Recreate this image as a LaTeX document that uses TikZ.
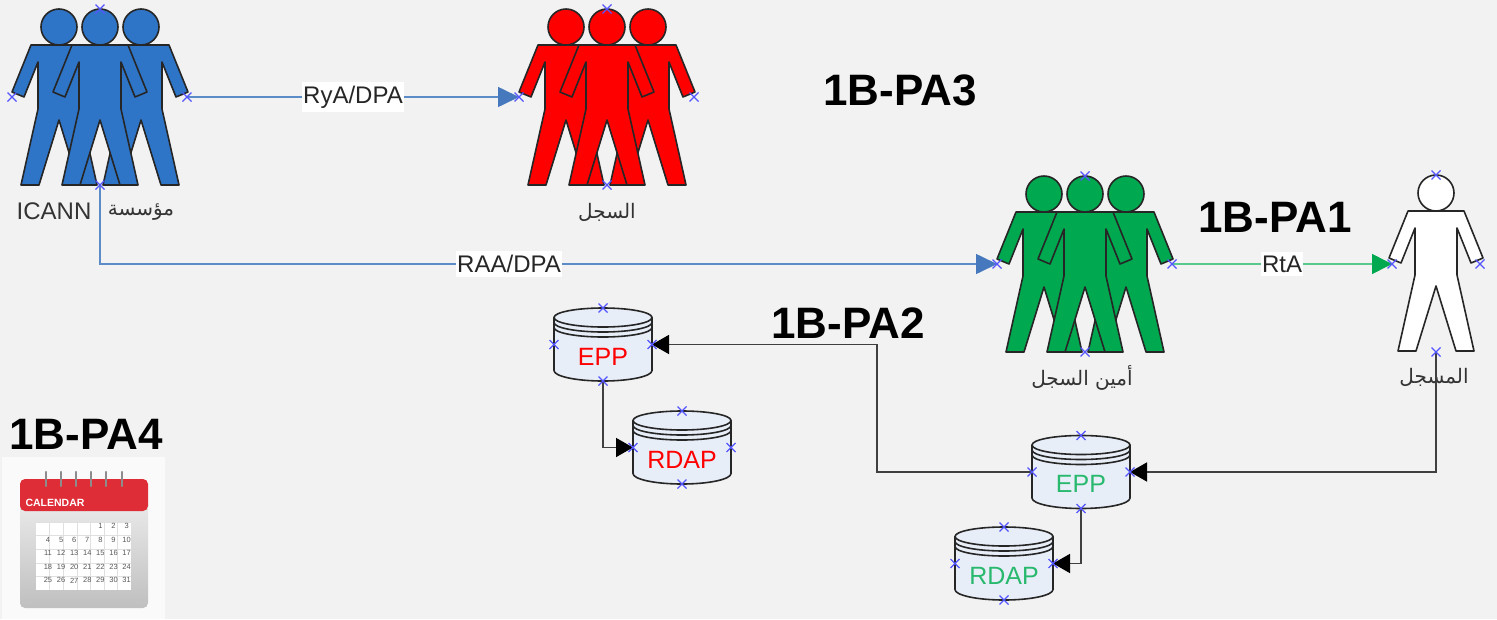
\documentclass[tikz,border=0pt]{standalone}
\usepackage{fontspec}
\setmainfont{Liberation Sans}
\newfontfamily\arabicfont[Script=Arabic]{DejaVu Sans}
\TeXXeTstate=1
\usepackage{tikz}
\usetikzlibrary{calc}
\usetikzlibrary{arrows.meta}
\usepackage{color}
\definecolor{pagegray}{RGB}{242, 242, 242}
\definecolor{icannblue}{RGB}{46, 117, 200}
\definecolor{linkblue}{RGB}{92, 140, 200}
\definecolor{tipblue}{RGB}{70, 120, 190}
\definecolor{rarred}{RGB}{255, 0, 0}
\definecolor{rargreen}{RGB}{0, 168, 80}
\definecolor{linkgreen}{RGB}{90, 200, 140}
\definecolor{eppgreen}{RGB}{40, 185, 110}
\definecolor{dbfill}{RGB}{232, 238, 247}
\definecolor{xmblue}{RGB}{85, 85, 255}
\definecolor{calred}{RGB}{222, 45, 55}
\tikzset{
  every node/.style={inner sep=0pt},
  outline/.style={draw=black!85, line width=1.6pt, line join=round},
  tag/.style={font=\fontsize{24}{28}\selectfont, text=black!85, fill=white, inner xsep=1pt, inner ysep=4pt},
  banner/.style={font=\bfseries\fontsize{44}{50}\selectfont, text=black},
  who/.style={font=\fontsize{24}{28}\selectfont, text=black!80},
  whoar/.style={font=\arabicfont\fontsize{20}{26}\selectfont, text=black!80},
  linkb/.style={draw=linkblue, line width=1.6pt, -{Triangle[length=21pt,width=20pt,color=tipblue]}},
  linkg/.style={draw=linkgreen, line width=1.6pt, -{Triangle[length=20pt,width=20pt,color=rargreen]}},
  linkk/.style={draw=black!75, line width=1.6pt, -{Triangle[length=17pt,width=19pt,color=black]}},
  pics/stick/.style={code={
    \draw[outline, fill=#1] (0,18) circle[radius=18pt];
    \draw[outline, fill=#1] (-28,36) -- (28,36) -- (47,83) -- (35,88) -- (21,53) -- (21,100)
      -- (38,176) -- (20,176) -- (0,111) -- (-20,176) -- (-38,176) -- (-21,100) -- (-21,53)
      -- (-35,88) -- (-47,83) -- cycle;
  }},
  pics/crowd/.style={code={
    \pic at (-41,0) {stick=#1};
    \pic at (41,0) {stick=#1};
    \pic at (0,0) {stick=#1};
    \coordinate (-n) at (0,0);
    \coordinate (-s) at (0,176);
    \coordinate (-w) at (-88,88);
    \coordinate (-e) at (87,88);
  }},
  pics/single/.style={code={
    \pic at (0,0) {stick=#1};
    \coordinate (-n) at (0,0);
    \coordinate (-s) at (0,177);
    \coordinate (-w) at (-44,89);
    \coordinate (-e) at (44,89);
  }},
  pics/dbase/.style 2 args={code={
    \draw[outline, fill=dbfill] (-49,-27) -- (-49,26) arc[start angle=180, end angle=0, x radius=49, y radius=10.5]
      -- (49,-27) -- cycle;
    \draw[outline, fill=dbfill] (0,-27) ellipse[x radius=49, y radius=9.5];
    \draw[outline] (-49,-22) arc[start angle=180, end angle=0, x radius=49, y radius=9.5];
    \draw[outline] (-49,-17) arc[start angle=180, end angle=0, x radius=49, y radius=9.5];
    \node[font=\fontsize{25}{30}\selectfont, text=#1] (-txt) at (0,12) {#2};
    \coordinate (-n) at (0,-36.5);
    \coordinate (-s) at (0,36.5);
    \coordinate (-w) at (-49,0);
    \coordinate (-e) at (49,0);
  }},
  pics/xm/.style={code={
    \draw[xmblue, line width=1.1pt] (-4.5,-4.5) -- (4.5,4.5) (-4.5,4.5) -- (4.5,-4.5);
  }}
}

\begin{document}
\begin{tikzpicture}[x=1pt, y=-1pt]
  % Page
  \fill[pagegray] (0,0) rectangle (1497,619);
  \useasboundingbox (0,0) rectangle (1497,619);

  % People
  \pic (icann) at (100,9) {crowd=icannblue};
  \pic (ry) at (607,9) {crowd=rarred};
  \pic (ra) at (1085,176) {crowd=rargreen};
  \pic (rt) at (1436,175) {single=white};

  % Databases
  \pic (eppr) at (603,344.5) {dbase={rarred}{EPP}};
  \pic (rdapr) at (682,447.5) {dbase={rarred}{RDAP}};
  \pic (eppg) at (1081,472) {dbase={eppgreen}{EPP}};
  \pic (rdapg) at (1004,563.5) {dbase={eppgreen}{RDAP}};

  % Names under people
  \node[who] (icannlat) at (54,211) {ICANN};
  \node[whoar] (icannar) at (141,212) {\beginR مؤسسة\endR};
  \node[whoar] (rylab) at (607,212) {\beginR السجل\endR};
  \node[whoar] (ralab) at (1082,378) {\beginR أمين السجل\endR};
  \node[whoar] (rtlab) at (1434,377) {\beginR المسجل\endR};

  % Agreements
  \draw[linkb] (icann-e) -- (ry-w) node[tag, midway] (rya) {RyA/DPA};
  \draw[linkb] (icann-s) |- (ra-w) node[tag, pos=0.728] (raa) {RAA/DPA};
  \draw[linkg] (ra-e) -- (rt-w) node[tag, midway] (rta) {RtA};

  % Data flow
  \coordinate (jog) at (877,344.5);
  \draw[linkk] (rt-s) |- (eppg-e);
  \draw[linkk] (eppg-w) -| (jog) -- (eppr-e);
  \draw[linkk] (eppr-s) |- (rdapr-w);
  \draw[linkk] (eppg-s) |- (rdapg-e);

  % Connection marks
  \foreach \hub in {icann, ry, ra, rt, eppr, rdapr, eppg, rdapg}
    \foreach \side in {n, s, w, e}
      \pic at (\hub-\side) {xm};

  % Phase names
  \node[banner] (pa3) at (900,90) {1B-PA3};
  \node[banner] (pa1) at (1275,217) {1B-PA1};
  \node[banner] (pa2) at (848,323) {1B-PA2};
  \node[banner] (pa4) at (86,434) {1B-PA4};

  % Calendar
  \fill[white!98!black] (2,457) rectangle (165,619);
  \shade[top color=white!92!black, bottom color=black!25, rounded corners=5pt] (20,500) rectangle (148,608);
  \fill[calred, rounded corners=5pt] (20,479) -- (148,479) -- (148,511) -- (20,511) -- cycle;
  \node[font=\bfseries\fontsize{10.5}{12}\selectfont, text=white] (calname) at (55,503) {CALENDAR};
  \foreach \ring in {46, 61, 76, 91, 106, 122}
    \draw[black!45, line width=2.4pt, line cap=round] (\ring,472) -- (\ring,486);
  \fill[white] (36,522) rectangle (131,590);
  \foreach \row in {0,...,4}
    \draw[black!12] (36,522+13.6*\row) -- (131,522+13.6*\row);
  \foreach \col in {1,...,6}
    \draw[black!12] (36+13.57*\col,522) -- (36+13.57*\col,590);
  \foreach \day in {1,...,31} {
    \pgfmathtruncatemacro{\slot}{\day+3}
    \pgfmathtruncatemacro{\row}{floor(\slot/7)}
    \pgfmathtruncatemacro{\col}{mod(\slot,7)}
    \node[font=\fontsize{7.5}{8}\selectfont, text=black!65] (day\day) at (48+13.1*\col,526+13.6*\row) {\day};
  }
\end{tikzpicture}
\end{document}
